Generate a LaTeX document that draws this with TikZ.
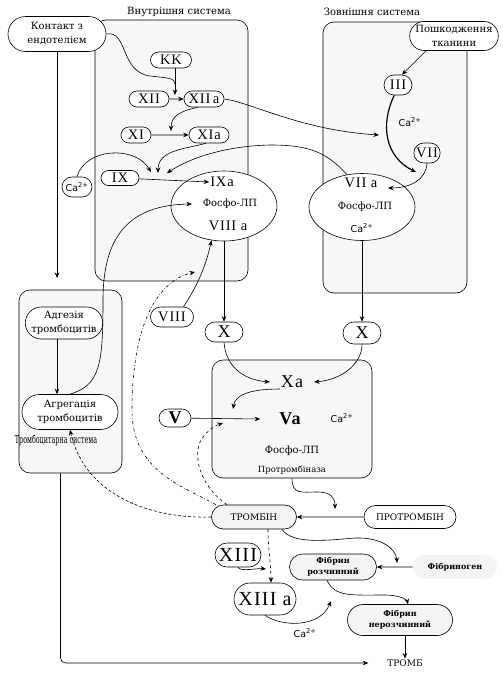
\documentclass[tikz,border=0pt]{standalone}
\usepackage{fontspec}
\setmainfont{DejaVu Serif}
\setsansfont{DejaVu Sans}
\newfontfamily\romfont[LetterSpace=6]{Liberation Serif}
\usepackage{graphicx}
\usetikzlibrary{shapes.misc,shapes.geometric,arrows.meta}
\definecolor{boxgray}{RGB}{247,247,247}
\definecolor{pillgray}{RGB}{244,244,244}
\newcommand{\caion}{Ca\textsuperscript{2+}}

\begin{document}
\begin{tikzpicture}[x=1pt,y=1pt,yscale=-1,xscale=1,line width=0.6pt,
  sysbox/.style={draw, rounded corners=11pt, fill=boxgray, inner sep=0pt},
  pill/.style={draw, rounded rectangle, fill=white, inner sep=1pt, align=center},
  ovalnode/.style={draw, ellipse, fill=white, inner sep=0pt},
  txt/.style={inner sep=0.75pt, align=center},
  normtxt/.style={font=\fontsize{10}{14}\selectfont},
  romtxt/.style={font=\romfont\fontsize{14.5}{16}\selectfont},
  bigtxt/.style={font=\romfont\fontsize{18}{20}\selectfont},
  bigbold/.style={font=\romfont\bfseries\fontsize{18}{20}\selectfont},
  hugetxt/.style={font=\romfont\fontsize{20}{22}\selectfont},
  fostxt/.style={font=\fontsize{10}{12}\selectfont},
  catxt/.style={font=\sffamily\fontsize{9.5}{10}\selectfont},
  smtxt/.style={font=\fontsize{8.5}{10}\selectfont},
  captxt/.style={font=\fontsize{9}{11}\selectfont},
  fibtxt/.style={font=\bfseries\fontsize{8}{11}\selectfont},
  arr/.style={-{Stealth[length=5.5pt,width=4.5pt]}}]
\useasboundingbox (0,0) rectangle (503,694);

%Shape: Rounded Rect [systems]
\node [sysbox, minimum width=153pt, minimum height=261pt] (inbox) at (171.5,150.5) {};
\node [sysbox, minimum width=144pt, minimum height=271pt] (outbox) at (395,157.5) {};
\node [sysbox, minimum width=103pt, minimum height=183pt] (plbox) at (70.5,381.5) {};
\node [sysbox, minimum width=160pt, minimum height=118pt] (pbox) at (292,419) {};

% Text Node
\node [txt, normtxt] (tinner) at (179,12) {Внутрішня система};
% Text Node
\node [txt, normtxt] (touter) at (372,12) {Зовнішня система};

%Shape: inner system
\node [pill, normtxt, minimum width=100pt, minimum height=35pt] (kont) at (57,34) {Контакт з\\ендотелієм};
\node [pill, romtxt, minimum width=43pt, minimum height=16pt] (kk) at (171,60) {KK};
\node [pill, romtxt, minimum width=42pt, minimum height=16pt] (xii) at (149,99) {XII};
\node [pill, romtxt, minimum width=42pt, minimum height=16pt] (xiia) at (204,99) {XII\,a};
\node [pill, romtxt, minimum width=32pt, minimum height=16pt] (xi) at (136,135) {XI};
\node [pill, romtxt, minimum width=42pt, minimum height=16pt] (xia) at (209,135) {XIa};
\node [pill, romtxt, minimum width=40pt, minimum height=15pt] (ix) at (120,178) {IX};
\node [pill, catxt, minimum width=32pt, minimum height=20pt] (cal) at (77,187) {\caion};
%Shape: Ellipse [IXa]
\node [ovalnode, minimum width=106pt, minimum height=70pt] (ixa) at (224,206) {};
\node [txt, romtxt] (ixat) at (222,182) {IXa};
\node [txt, fostxt] (fosix) at (230,204) {Фосфо-ЛП};
\node [txt, romtxt] (viiiat) at (228,226) {VIII a};

%Shape: outer system
\node [pill, normtxt, minimum width=87pt, minimum height=29pt] (poshk) at (454,36) {Пошкодження\\тканини};
\node [pill, romtxt, minimum width=30pt, minimum height=20pt] (iii) at (398,85) {III};
\node [txt, catxt] (caiii) at (410,122) {\caion};
\node [pill, romtxt, minimum width=22pt, minimum height=20pt] (vii) at (427,153) {VII};
%Shape: Ellipse [VIIa]
\node [ovalnode, minimum width=106pt, minimum height=67pt] (viia) at (362,207) {};
\node [txt, romtxt] (viiat) at (361,183) {VII a};
\node [txt, fostxt] (fosvii) at (365,207) {Фосфо-ЛП};
\node [txt, catxt] (cavii) at (362,228) {\caion};

%Shape: platelets
\node [pill, normtxt, minimum width=77pt, minimum height=32pt] (adg) at (64,323) {Адгезія\\тромбоцитів};
\node [pill, normtxt, minimum width=98pt, minimum height=35pt] (agr) at (70,412) {Агрегація\\тромбоцитів};
% Text Node
\node [txt, font=\fontsize{11}{12}\selectfont] (trsys) at (56,440) {\scalebox{0.58}[1]{Тромбоцитарна система}};

\node [pill, romtxt, minimum width=45pt, minimum height=20pt] (viii) at (172,317) {VIII};
\node [pill, bigtxt, minimum width=40pt, minimum height=20pt] (xl) at (224,332) {X};
\node [pill, bigtxt, minimum width=40pt, minimum height=22pt] (xr) at (362,333) {X};
\node [pill, bigbold, minimum width=34pt, minimum height=18pt] (v) at (175,418) {V};

%Shape: prothrombinase
\node [txt, bigtxt] (xat) at (292,382) {Xa};
\node [txt, bigbold] (vat) at (290,419) {Va};
\node [txt, catxt] (cap) at (342,418) {\caion};
\node [txt, fostxt] (fosp) at (292,451) {Фосфо-ЛП};
\node [txt, smtxt] (prot) at (292,470) {Протромбіназа};

%Shape: thrombin and fibrin
\node [pill, captxt, fill=pillgray, minimum width=87pt, minimum height=24pt] (trombin) at (254,517) {ТРОМБІН};
\node [pill, captxt, minimum width=94pt, minimum height=23pt] (protr) at (410,517) {ПРОТРОМБІН};
\node [pill, hugetxt, minimum width=48pt, minimum height=24pt] (xiii) at (238,555) {XIII};
\node [pill, hugetxt, minimum width=64pt, minimum height=32pt] (xiiia) at (265,599) {XIII a};
\node [txt, catxt] (cab) at (305,633) {\caion};
\node [pill, fibtxt, fill=pillgray, minimum width=89pt, minimum height=26pt] (fibr) at (333,567) {Фібрин\\розчинний};
\node [pill, fibtxt, draw=none, fill=pillgray, minimum width=86pt, minimum height=24pt] (fibrg) at (455,567) {Фібриноген};
\node [pill, fibtxt, fill=pillgray, minimum width=107pt, minimum height=31pt] (fibn) at (400,620) {Фібрин\\нерозчинний};
% Text Node
\node [txt, captxt] (tromb) at (405,663) {ТРОМБ};

%Curve Lines [contact]
\coordinate (jxii) at (175,95);
\coordinate (jkk) at (175,84);
\draw (kont.east) .. controls (128,30) and (120,72) .. (150,76) .. controls (168,78) and (175,78) .. (jkk);
\draw [arr] ([xshift=4pt]kk.south) -- (jxii);
%Straight Lines
\draw [arr] (xii) -- (xiia);
\draw [arr] (xi) -- (xia);
%Curve Lines
\coordinate (jiii) at (379,135);
\draw [arr] (xiia.east) .. controls (250,102) and (300,130) .. (jiii);
\coordinate (jxi) at (171,131);
\draw [arr] (xiia.235) .. controls (180,111) and (171,116) .. (jxi);
\coordinate (jix) at (158,173);
\draw [arr] (xia.250) .. controls (185,149) and (158,150) .. (jix);
\coordinate (jix2) at (151,172);
\draw [arr] (cal.north) .. controls (85,148) and (135,145) .. (jix2);
\coordinate (jix3) at (167,173);
\draw [arr] (viia.115) .. controls (325,150) and (305,145) .. (270,145) .. controls (225,146) and (190,158) .. (jix3);
\draw [arr] (ix) -- (ixat.west);
%Straight Lines [outer]
\draw [arr] ([xshift=-28pt]poshk.south) -- (iii.north east);
\coordinate (jviia) at (416,172);
\draw [arr, line width=1.2pt] (iii.250) .. controls (380,125) and (385,157) .. (jviia);
\coordinate (jviiat) at (388,188);
\draw [arr] (vii.south) .. controls (426,180) and (410,188) .. (jviiat);
%Curve Lines [platelets -> IXa]
\draw [arr] ([xshift=-7pt]adg.south) -- ([xshift=-13pt]agr.north);
\draw [arr] (agr.north) .. controls (100,385) and (103,365) .. (103,300) .. controls (103,235) and (130,205) .. ([xshift=-10pt]fosix.west);
\draw [arr] (viii.north east) .. controls (198,285) and (206,265) .. (ixa.250);
%Straight Lines [to X]
\draw [arr] (ixa.south) -- (xl.north);
\draw [arr] (viia.south) -- (xr.north);
%Curve Lines [X -> Xa]
\draw [arr] (xl.south) .. controls (226,368) and (245,380) .. ([xshift=-10pt]xat.west);
\draw [arr] (xr.south) .. controls (362,365) and (340,380) .. ([xshift=10pt]xat.east);
\coordinate (jva) at (233,409);
\draw [arr] (xat.south west) .. controls (247,389) and (235,396) .. (jva);
\draw [arr] (v) -- ([xshift=-18pt]vat.west);
%Curve Lines [prothrombinase -> thrombin]
\coordinate (jtr) at (335,509);
\draw [arr] (pbox.south) .. controls (292,495) and (302,492) .. (318,492) .. controls (331,492) and (335,498) .. (jtr);
\draw [arr] (protr) -- (trombin);
%Curve Lines [thrombin]
\draw [arr, dashed] ([xshift=14pt]trombin.south) .. controls (268,548) and (271,565) .. ([xshift=6pt]xiiia.north);
\coordinate (jxiii) at (266,569);
\draw [arr] (xiii.south) .. controls (240,572) and (258,568) .. (jxiii);
\coordinate (jfib) at (331,601);
\draw [arr] (xiiia.south) .. controls (282,627) and (320,628) .. (jfib);
\coordinate (jfg) at (397,563);
\draw [arr] ([xshift=28pt]trombin.south) .. controls (292,545) and (330,540) .. (355,538) .. controls (380,537) and (396,548) .. (jfg);
\draw [arr] (fibrg) -- (fibr);
\draw [arr] ([xshift=-6pt]fibr.south) .. controls (335,597) and (350,595) .. (385,595) .. controls (400,595) and (407,600) .. ([xshift=8pt]fibn.north);
\draw [arr] ([xshift=5pt]fibn.south) -- (tromb.north);
%Straight Lines [left]
\coordinate (jpl) at (57,278);
\draw [arr] (kont.south) -- (jpl);
\draw [arr, rounded corners=5pt] ([xshift=-10pt]plbox.south) |- ([xshift=-18pt]tromb.west);
%Curve Lines [feedback]
\coordinate (jva2) at (223,423);
\draw [arr, dashed] ([xshift=-27pt]trombin.north) .. controls (205,490) and (192,462) .. (200,442) .. controls (205,432) and (214,426) .. (jva2);
\coordinate (jviii) at (195,272);
\draw [arr, dash dot] ([xshift=-38pt]trombin.north) .. controls (180,485) and (132,470) .. (132,410) .. controls (132,320) and (160,280) .. (jviii);
\draw [arr, densely dashed] (trombin.west) .. controls (150,519) and (85,495) .. (agr.south);

\end{tikzpicture}
\end{document}
